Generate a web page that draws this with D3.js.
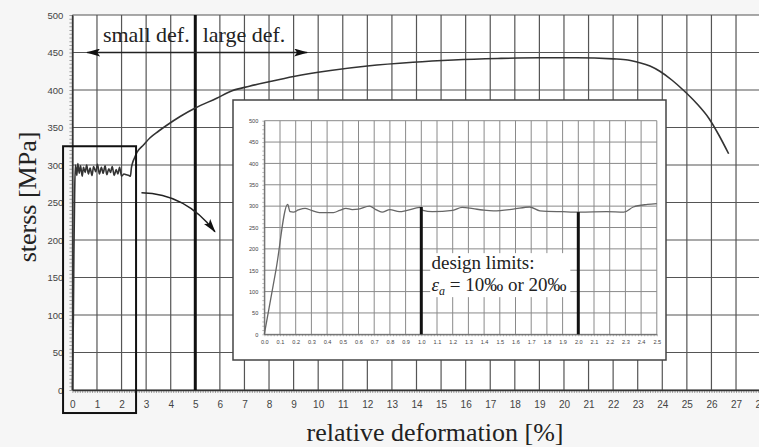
<!DOCTYPE html>
<html>
<head>
<meta charset="utf-8">
<script src="https://cdn.jsdelivr.net/npm/d3@7"></script>
<style>
  body { margin: 0; background: #f6f6f6; }
  svg { display: block; }
  .tick text { font-family: "Liberation Sans", Arial, sans-serif; fill: #444; }
  .serif { font-family: "Liberation Serif", "Times New Roman", serif; fill: #222; }
</style>
</head>
<body>
<svg class="stress_strain" width="759" height="447"></svg>
<script>
// main test curve: strain [%] vs stress [MPa]
var mainStrain = [0, 0.04, 0.06, 0.09, 0.12, 0.18, 0.22, 0.28, 0.33, 0.4, 0.45, 0.52, 0.58, 0.65, 0.72, 0.8, 0.86, 0.95, 1.02, 1.1,
  1.18, 1.25, 1.33, 1.4, 1.48, 1.55, 1.62, 1.7, 1.78, 1.85, 1.92, 2.0, 2.1, 2.2, 2.3, 2.36, 2.4, 2.45, 2.52, 2.63,
  2.9, 3.15, 3.5, 3.84, 4.4, 5.0, 5.87, 6.5, 7.2, 8, 9, 10.5, 12, 13.85, 15.5, 17.3, 19, 20.5, 22, 22.6,
  23, 23.5, 23.9, 24.4, 24.85, 25.4, 25.9, 26.3, 26.7];
var mainStress = [0, 100, 180, 260, 300, 286, 302, 289, 299, 285, 297, 290, 300, 288, 296, 286, 298, 291, 301, 288,
  297, 289, 299, 287, 295, 290, 298, 286, 294, 288, 297, 285, 288, 287, 286, 285, 296, 303, 309, 317,
  327, 336, 345, 353, 365, 376, 389, 399, 405, 411, 418, 426, 432, 437, 440, 442, 443, 443, 441.5, 440,
  437, 432, 425, 413, 400, 382, 362, 340, 315];

// detail of the first 2.5 % (inset)
var insetStrain = [0, 0.075, 0.149, 0.164, 0.185, 0.217, 0.26, 0.30, 0.35, 0.44, 0.48, 0.52, 0.56, 0.60, 0.67, 0.71, 0.75, 0.80, 0.86,
  0.91, 0.99, 1.01, 1.07, 1.20, 1.26, 1.33, 1.39, 1.46, 1.586, 1.69, 1.756, 1.90, 2.01, 2.18, 2.29, 2.35, 2.44, 2.5];
var insetStress = [0, 152, 304, 287, 286, 291, 295, 290, 285, 285, 290, 295, 292, 293, 300, 292, 286, 292, 287,
  290, 297, 290, 287, 290, 297, 294, 291, 289, 293, 298, 289, 287, 286, 287, 286, 298, 304, 306];

var designStrain = [1.0, 2.0];
var designStress = [298, 286];

var mainXTicks = d3.range(0, 29, 1);
var mainYTicks = d3.range(0, 501, 50);
var insetXTicks = d3.range(0, 26, 1).map(function (d) { return d / 10; });
var insetYTicks = d3.range(0, 501, 50);

var svg = d3.select("svg.stress_strain"),
    margin = {top: 15, right: -1.6, bottom: 57, left: 72.4},
    width = +svg.attr("width") - margin.left - margin.right,
    height = +svg.attr("height") - margin.top - margin.bottom;

var x = d3.scaleLinear().domain([0, 28]).range([margin.left, margin.left + width]);
var y = d3.scaleLinear().domain([0, 500]).range([margin.top + height, margin.top]);

svg.append("rect")
    .attr("x", x(0)).attr("y", y(500))
    .attr("width", x(28) - x(0)).attr("height", y(0) - y(500))
    .attr("fill", "#fff");

// grid
svg.append("g").selectAll("line.v")
  .data(mainXTicks)
  .enter().append("line")
    .attr("x1", x).attr("x2", x)
    .attr("y1", y(0)).attr("y2", y(500))
    .attr("stroke", "#555").attr("stroke-width", 1.2);

svg.append("g").selectAll("line.h")
  .data(mainYTicks)
  .enter().append("line")
    .attr("x1", x(0)).attr("x2", x(28))
    .attr("y1", y).attr("y2", y)
    .attr("stroke", "#555").attr("stroke-width", 1.2);

// minor ticks
svg.append("g")
    .attr("transform", "translate(0," + y(0) + ")")
    .call(d3.axisBottom(x).tickValues(d3.range(0, 281).map(function (d) { return d / 10; }))
      .tickSize(3).tickFormat(""))
    .call(function (g) { g.select(".domain").remove(); g.selectAll("line").attr("stroke", "#666").attr("stroke-width", 0.6); });

svg.append("g")
    .attr("transform", "translate(" + x(0) + ",0)")
    .call(d3.axisLeft(y).tickValues(d3.range(0, 501, 5)).tickSize(3).tickFormat(""))
    .call(function (g) { g.select(".domain").remove(); g.selectAll("line").attr("stroke", "#666").attr("stroke-width", 0.6); });

// axes
svg.append("g")
    .attr("class", "axis axis--x")
    .attr("transform", "translate(0," + y(0) + ")")
    .call(d3.axisBottom(x).tickValues(mainXTicks).tickSize(0).tickPadding(11).tickFormat(d3.format("d")))
    .call(function (g) {
      g.select(".domain").attr("stroke", "#333").attr("stroke-width", 1.5);
      g.selectAll("text").style("font-size", "10px");
    });

svg.append("g")
    .attr("class", "axis axis--y")
    .attr("transform", "translate(" + x(0) + ",0)")
    .call(d3.axisLeft(y).tickValues(mainYTicks).tickSize(0).tickPadding(9))
    .call(function (g) {
      g.select(".domain").attr("stroke", "#333").attr("stroke-width", 1.5);
      g.selectAll("text").style("font-size", "9.5px");
    });

// small / large deformation boundary
svg.append("line")
    .attr("x1", x(5)).attr("x2", x(5))
    .attr("y1", y(0)).attr("y2", y(500))
    .attr("stroke", "#111").attr("stroke-width", 3);

var defs = svg.append("defs");
defs.append("marker")
    .attr("id", "head")
    .attr("viewBox", "0 0 14 8")
    .attr("refX", 13).attr("refY", 4)
    .attr("markerWidth", 14).attr("markerHeight", 8)
    .attr("markerUnits", "userSpaceOnUse")
    .attr("orient", "auto-start-reverse")
  .append("path")
    .attr("d", "M0,0L14,4L0,8L3,4Z")
    .attr("fill", "#111");

svg.append("line")
    .attr("x1", x(0.6)).attr("x2", x(9.55))
    .attr("y1", y(450)).attr("y2", y(450))
    .attr("stroke", "#222").attr("stroke-width", 1.5)
    .attr("marker-start", "url(#head)")
    .attr("marker-end", "url(#head)");

svg.append("text")
    .attr("class", "serif")
    .attr("x", x(1.24)).attr("y", y(464))
    .style("font-size", "22px")
    .text("small def.");

svg.append("text")
    .attr("class", "serif")
    .attr("x", x(5.3)).attr("y", y(464))
    .style("font-size", "22px")
    .text("large def.");

// curve
var line = d3.line()
    .x(function (d) { return x(d[0]); })
    .y(function (d) { return y(d[1]); })
    .curve(d3.curveMonotoneX);

svg.append("path")
    .datum(mainStrain.map(function (s, i) { return [s, mainStress[i]]; }))
    .attr("d", line)
    .attr("fill", "none")
    .attr("stroke", "#333")
    .attr("stroke-width", 1.6);

// zoom frame around the first 2.5 %
svg.append("rect")
    .attr("x", x(-0.38)).attr("y", y(325))
    .attr("width", x(2.59) - x(-0.38))
    .attr("height", y(-30.7) - y(325))
    .attr("fill", "none")
    .attr("stroke", "#111").attr("stroke-width", 2);

svg.append("path")
    .attr("d", "M" + x(2.81) + "," + y(263) + "Q" + x(4.6) + "," + y(262) + " " + x(5.8) + "," + y(211))
    .attr("fill", "none")
    .attr("stroke", "#222").attr("stroke-width", 1.5)
    .attr("marker-end", "url(#head)");

// inset
var box = {x0: 233, y0: 100, x1: 666, y1: 360};
svg.append("rect")
    .attr("x", box.x0).attr("y", box.y0)
    .attr("width", box.x1 - box.x0).attr("height", box.y1 - box.y0)
    .attr("fill", "#fff")
    .attr("stroke", "#444").attr("stroke-width", 1.5);

var xi = d3.scaleLinear().domain([0, 2.5]).range([264.3, 656.8]);
var yi = d3.scaleLinear().domain([0, 500]).range([334.3, 120.7]);

var inset = svg.append("g");

inset.selectAll("line.iv")
  .data(insetXTicks)
  .enter().append("line")
    .attr("x1", xi).attr("x2", xi)
    .attr("y1", yi(0)).attr("y2", yi(500))
    .attr("stroke", "#8a8a8a").attr("stroke-width", 1);

inset.selectAll("line.ih")
  .data(insetYTicks)
  .enter().append("line")
    .attr("x1", xi(0)).attr("x2", xi(2.5))
    .attr("y1", yi).attr("y2", yi)
    .attr("stroke", "#8a8a8a").attr("stroke-width", 1);

inset.append("g")
    .attr("transform", "translate(0," + yi(0) + ")")
    .call(d3.axisBottom(xi).tickValues(d3.range(0, 126).map(function (d) { return d / 50; }))
      .tickSize(2).tickFormat(""))
    .call(function (g) { g.select(".domain").remove(); g.selectAll("line").attr("stroke", "#777").attr("stroke-width", 0.5); });

inset.append("g")
    .attr("transform", "translate(" + xi(0) + ",0)")
    .call(d3.axisLeft(yi).tickValues(d3.range(0, 501, 10)).tickSize(2).tickFormat(""))
    .call(function (g) { g.select(".domain").remove(); g.selectAll("line").attr("stroke", "#777").attr("stroke-width", 0.5); });

inset.append("g")
    .attr("transform", "translate(0," + yi(0) + ")")
    .call(d3.axisBottom(xi).tickValues(insetXTicks).tickSize(0).tickPadding(6).tickFormat(d3.format(".1f")))
    .call(function (g) {
      g.select(".domain").attr("stroke", "#666").attr("stroke-width", 1);
      g.selectAll("text").style("font-size", "5.6px");
    });

inset.append("g")
    .attr("transform", "translate(" + xi(0) + ",0)")
    .call(d3.axisLeft(yi).tickValues(insetYTicks).tickSize(0).tickPadding(6))
    .call(function (g) {
      g.select(".domain").attr("stroke", "#666").attr("stroke-width", 1);
      g.selectAll("text").style("font-size", "5.6px");
    });

var lineInset = d3.line()
    .x(function (d) { return xi(d[0]); })
    .y(function (d) { return yi(d[1]); })
    .curve(d3.curveMonotoneX);

inset.append("path")
    .datum(insetStrain.map(function (s, i) { return [s, insetStress[i]]; }))
    .attr("d", lineInset)
    .attr("fill", "none")
    .attr("stroke", "#666")
    .attr("stroke-width", 1.3);

inset.selectAll("line.limit")
  .data(designStrain)
  .enter().append("line")
    .attr("x1", xi).attr("x2", xi)
    .attr("y1", yi(0))
    .attr("y2", function (d, i) { return yi(designStress[i]); })
    .attr("stroke", "#111").attr("stroke-width", 3);

// label box covering grid
inset.append("rect")
    .attr("x", xi(1.057)).attr("y", yi(190))
    .attr("width", xi(1.949) - xi(1.057))
    .attr("height", yi(87) - yi(190))
    .attr("fill", "#fff");

inset.append("text")
    .attr("class", "serif")
    .attr("x", xi(1.065)).attr("y", yi(150) - 1)
    .style("font-size", "19px")
    .text("design limits:");

var eps = inset.append("text")
    .attr("class", "serif")
    .attr("x", xi(1.065)).attr("y", yi(100) - 1)
    .style("font-size", "19px");
eps.append("tspan").style("font-style", "italic").text("ε");
eps.append("tspan").style("font-style", "italic").style("font-size", "12px").attr("dy", 4).text("a");
eps.append("tspan").attr("dy", -4).text(" = 10‰ or 20‰");

// axis titles
svg.append("text")
    .attr("class", "serif")
    .attr("transform", "translate(36," + 197 + ") rotate(-90)")
    .attr("text-anchor", "middle")
    .style("font-size", "26px")
    .text("sterss [MPa]");

svg.append("text")
    .attr("class", "serif")
    .attr("x", 435).attr("y", 441)
    .attr("text-anchor", "middle")
    .style("font-size", "26px")
    .text("relative deformation [%]");
</script>
</body>
</html>
